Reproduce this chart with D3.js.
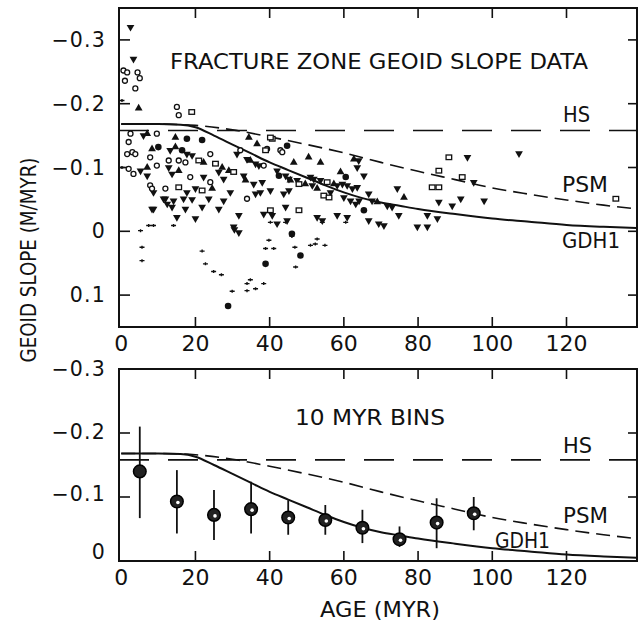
<!DOCTYPE html>
<html><head><meta charset="utf-8">
<script src="https://cdn.jsdelivr.net/npm/d3@7"></script>
<style>body{margin:0;background:#fff}svg text{font-family:"DejaVu Sans",sans-serif;fill:#111}</style>
</head><body>
<svg id="c" width="641" height="624"></svg>
<script>
// ---------- data ----------
const xTicks = [0, 20, 40, 60, 80, 100, 120];
const topYTicks = [-0.3, -0.2, -0.1, 0, 0.1];
const botYTicks = [-0.3, -0.2, -0.1, 0];

const gdhAges = [0, 10, 16, 20, 25, 30, 35, 40, 45, 50, 55, 60, 65, 70, 75, 80, 90, 100, 110, 120, 130, 139];
const gdhVals = [-0.168, -0.168, -0.167, -0.163, -0.150, -0.136, -0.122, -0.108, -0.096, -0.084, -0.072, -0.061, -0.052, -0.045, -0.040, -0.035, -0.027, -0.020, -0.015, -0.010, -0.007, -0.005];
const psmAges = [0, 10, 20, 30, 40, 50, 60, 70, 80, 90, 100, 110, 120, 130, 139];
const psmVals = [-0.168, -0.168, -0.166, -0.159, -0.148, -0.136, -0.123, -0.108, -0.094, -0.081, -0.068, -0.058, -0.049, -0.041, -0.035];
const hsValue = -0.158;

const binAges = [5, 15, 25, 35, 45, 55, 65, 75, 85, 95];
const binMean = [-0.140, -0.093, -0.072, -0.081, -0.068, -0.064, -0.052, -0.034, -0.060, -0.0745];
const binLow  = [-0.210, -0.142, -0.111, -0.124, -0.095, -0.0875, -0.080, -0.054, -0.098, -0.100];
const binHigh = [-0.067, -0.043, -0.033, -0.043, -0.041, -0.041, -0.028, -0.022, -0.020, -0.048];

const downTri = [[2.5,-0.320],[3.3,-0.270],[8.3,-0.035],[40.2,-0.064],[65.4,-0.087],[74.4,-0.067],[74.8,-0.025],[66.7,-0.017],[79.8,-0.007],[82.5,-0.007],[82.5,-0.025],[85.6,-0.046],[89.2,-0.040],[91.5,-0.051],[97.8,-0.048],[93.3,-0.116],[107.2,-0.122],[54.2,-0.017],[36.2,-0.059],[37.5,-0.061],[13.7,-0.090],[21.8,-0.038],[17.3,-0.035],[26.3,-0.035],[15.0,-0.022],[20.0,-0.020],[47.4,-0.080],[12.8,-0.100],[22.2,-0.085],[27.6,-0.082],[63.2,-0.043],[58.2,-0.025],[60.9,-0.022],[44.7,-0.017],[42.0,-0.012],[52.8,-0.022],[11.9,-0.051],[19.1,-0.050],[23.6,-0.051],[27.6,-0.048],[8.7,-0.061],[14.1,-0.048],[16.8,-0.051],[20.0,-0.067],[29.4,-0.061],[33.0,-0.087],[35.7,-0.074],[38.0,-0.077],[45.2,-0.064],[43.8,-0.059],[51.5,-0.072],[62.3,-0.067],[61.8,-0.048],[64.1,-0.048],[69.4,-0.012],[70.8,-0.009],[85.2,-0.020],[95.0,-0.077],[71.7,-0.040],[73.0,-0.038],[31.7,-0.025],[40.7,-0.025],[38.4,-0.027],[7.0,-0.087],[5.2,-0.095],[26.3,-0.093],[17.7,-0.061],[13.7,-0.038],[30.3,-0.007],[6.0,-0.150],[12.4,-0.043],[44.3,-0.038],[56.4,-0.061],[60.0,-0.053],[66.7,-0.059],[67.6,-0.048],[63.6,-0.100],[64.0,-0.111],[51.0,-0.085],[51.9,-0.082],[53.7,-0.080],[58.2,-0.072],[59.6,-0.074],[60.9,-0.072],[63.6,-0.069],[31.2,-0.121],[33.9,-0.113],[36.2,-0.106],[37.1,-0.103],[42.0,-0.095],[44.3,-0.087],[45.2,-0.082],[30.5,-0.003],[31.7,0.002],[11.4,-0.051],[8.7,-0.035],[17.7,-0.121],[19.1,-0.119],[13.2,-0.127]];
const upTri = [[4.7,-0.193],[7.0,-0.153],[34.4,-0.147],[36.6,-0.137],[46.5,-0.108],[50.5,-0.116],[14.6,-0.132],[29.0,-0.095],[53.7,-0.108],[8.3,-0.129],[14.6,-0.147],[24.5,-0.067],[33.5,-0.080],[34.8,-0.111],[45.6,-0.080],[49.6,-0.074],[52.8,-0.067],[57.3,-0.074],[59.1,-0.093],[62.7,-0.113],[69.0,-0.046],[76.2,-0.053],[27.2,-0.100],[22.2,-0.108],[7.0,-0.100],[15.5,-0.095]];
const filledCircle = [[17.7,-0.145],[21.8,-0.143],[44.7,-0.134],[65.4,-0.033],[48.3,0.038],[38.9,0.051],[28.8,0.117],[16.4,-0.127],[42.5,-0.087],[10.0,-0.132],[60.5,-0.085],[46.0,0.004]];
const openCircle = [[0.6,-0.252],[1.6,-0.249],[1.0,-0.236],[4.4,-0.249],[5.0,-0.240],[3.8,-0.224],[15.0,-0.195],[15.5,-0.182],[9.6,-0.153],[2.0,-0.140],[3.0,-0.124],[1.6,-0.121],[3.8,-0.121],[15.5,-0.111],[17.3,-0.108],[24.0,-0.121],[7.8,-0.072],[8.3,-0.067],[39.3,-0.129],[42.9,-0.127],[43.4,-0.124],[33.9,-0.051],[2.5,-0.153],[9.6,-0.103],[18.6,-0.085],[11.9,-0.067],[24.0,-0.077],[32.1,-0.127],[38.4,-0.103],[2.0,-0.098],[3.3,-0.090],[7.8,-0.116],[12.8,-0.111]];
const openSquare = [[19.0,-0.187],[40.7,-0.145],[40.2,-0.147],[38.9,-0.127],[54.6,-0.056],[56.0,-0.053],[47.9,-0.033],[83.8,-0.069],[85.6,-0.069],[85.6,-0.095],[88.3,-0.116],[91.9,-0.085],[133.3,-0.051],[20.9,-0.111],[25.4,-0.106],[30.3,-0.093],[55.5,-0.077],[15.5,-0.069],[21.8,-0.064],[40.2,-0.033],[47.9,-0.074]];
const smallMark = [[0.2,-0.205],[5.2,-0.001],[5.6,0.025],[5.6,0.046],[7.4,-0.009],[8.7,-0.009],[14.1,-0.009],[21.8,0.031],[22.7,0.051],[24.9,0.063],[27.0,0.068],[29.9,0.094],[33.9,0.082],[33.9,0.093],[34.8,0.076],[36.2,0.090],[38.4,0.082],[39.8,0.014],[38.9,0.027],[41.1,0.027],[46.0,0.008],[46.8,0.025],[47.0,0.056],[51.0,0.022],[52.3,0.020],[52.8,0.012],[54.9,0.022],[0.2,-0.100],[44.3,-0.014],[40.2,-0.014],[60.5,-0.014],[54.2,-0.014]];

// ---------- layout ----------
const svg = d3.select("#c");
const X0 = 119, X1 = 637;
const x = d3.scaleLinear().domain([-0.6, 139]).range([X0, X1]);
const yTop = d3.scaleLinear().domain([-0.35, 0.15]).range([8, 327]);
const yBot = d3.scaleLinear().domain([-0.3, 0]).range([369, 561]);

function panel(y, yTicks, labelOffsets) {
  const [t, b] = y.range();
  const g = svg.append("g");
  const xt = xTicks.filter(v => v > 0);
  g.selectAll(null).data(xt).enter().append("line")
    .attr("x1", d => x(d)).attr("x2", d => x(d)).attr("y1", b).attr("y2", b - 10)
    .attr("stroke", "#111").attr("stroke-width", 1.6);
  g.selectAll(null).data(xt).enter().append("line")
    .attr("x1", d => x(d)).attr("x2", d => x(d)).attr("y1", t).attr("y2", t + 10)
    .attr("stroke", "#111").attr("stroke-width", 1.6);
  g.selectAll(null).data(yTicks).enter().append("line")
    .attr("x1", X0).attr("x2", X0 + 11).attr("y1", d => y(d)).attr("y2", d => y(d))
    .attr("stroke", "#111").attr("stroke-width", 1.6);
  g.selectAll(null).data(yTicks).enter().append("line")
    .attr("x1", X1).attr("x2", X1 - 9).attr("y1", d => y(d)).attr("y2", d => y(d))
    .attr("stroke", "#111").attr("stroke-width", 1.6);
  g.append("rect").attr("x", X0).attr("y", t).attr("width", X1 - X0).attr("height", b - t)
    .attr("fill", "none").attr("stroke", "#111").attr("stroke-width", 2);
  g.selectAll(null).data(yTicks).enter().append("text")
    .attr("x", 106).attr("y", (d, i) => y(d) + 7 + (labelOffsets ? labelOffsets[i] : 0))
    .attr("text-anchor", "end").attr("font-size", 20.5).attr("letter-spacing", 1.2)
    .text(d => d === 0 ? "0" : (d < 0 ? "\u2212" : "") + Math.abs(d).toFixed(1));
  g.selectAll(null).data(xTicks).enter().append("text")
    .attr("x", d => x(d)).attr("y", b + 24)
    .attr("text-anchor", "middle").attr("font-size", 22)
    .text(d => d);
}
panel(yTop, topYTicks, null);
panel(yBot, botYTicks, [0, -1, -3, -9]);

// ---------- model curves ----------
function curves(y, clipId) {
  const [t, b] = y.range();
  svg.append("clipPath").attr("id", clipId).append("rect")
    .attr("x", X0).attr("y", t).attr("width", X1 - X0).attr("height", b - t);
  const g = svg.append("g").attr("clip-path", `url(#${clipId})`);
  g.append("line").attr("x1", X0).attr("x2", X1).attr("y1", y(hsValue)).attr("y2", y(hsValue))
    .attr("stroke", "#111").attr("stroke-width", 1.6).attr("stroke-dasharray", "30,19");
  const line = d3.line().x(d => x(d[0])).y(d => y(d[1])).curve(d3.curveMonotoneX);
  g.append("path").attr("d", line(psmAges.map((a, i) => [a, psmVals[i]])))
    .attr("fill", "none").attr("stroke", "#111").attr("stroke-width", 1.6).attr("stroke-dasharray", "14,7");
  g.append("path").attr("d", line(gdhAges.map((a, i) => [a, gdhVals[i]])))
    .attr("fill", "none").attr("stroke", "#111").attr("stroke-width", 2);
}
curves(yTop, "clipTop");
curves(yBot, "clipBot");

// ---------- scatter (top) ----------
const sg = svg.append("g");
sg.selectAll(null).data(downTri).enter().append("path")
  .attr("d", d3.symbol(d3.symbolTriangle, 26)())
  .attr("transform", d => `translate(${x(d[0])},${yTop(d[1])}) rotate(180)`)
  .attr("fill", "#111");
sg.selectAll(null).data(upTri).enter().append("path")
  .attr("d", d3.symbol(d3.symbolTriangle, 26)())
  .attr("transform", d => `translate(${x(d[0])},${yTop(d[1])})`)
  .attr("fill", "#111");
sg.selectAll(null).data(filledCircle).enter().append("circle")
  .attr("cx", d => x(d[0])).attr("cy", d => yTop(d[1])).attr("r", 3.3).attr("fill", "#111");
sg.selectAll(null).data(openCircle).enter().append("circle")
  .attr("cx", d => x(d[0])).attr("cy", d => yTop(d[1])).attr("r", 2.5)
  .attr("fill", "#fff").attr("stroke", "#111").attr("stroke-width", 1.3);
sg.selectAll(null).data(openSquare).enter().append("rect")
  .attr("x", d => x(d[0]) - 2.8).attr("y", d => yTop(d[1]) - 2.3).attr("width", 5.6).attr("height", 4.6)
  .attr("fill", "#fff").attr("stroke", "#111").attr("stroke-width", 1.3);
sg.selectAll(null).data(smallMark).enter().append("path")
  .attr("d", d => `M${x(d[0]) - 2.5},${yTop(d[1])}h5M${x(d[0])},${yTop(d[1]) - 1.5}v3`)
  .attr("stroke", "#111").attr("stroke-width", 1.4).attr("fill", "none");

// ---------- bins (bottom) ----------
const bg = svg.append("g");
bg.selectAll(null).data(binAges).enter().append("line")
  .attr("x1", d => x(d)).attr("x2", d => x(d))
  .attr("y1", (d, i) => yBot(binLow[i])).attr("y2", (d, i) => yBot(binHigh[i]))
  .attr("stroke", "#111").attr("stroke-width", 1.8);
bg.selectAll(null).data(binAges).enter().append("circle")
  .attr("cx", d => x(d)).attr("cy", (d, i) => yBot(binMean[i])).attr("r", 6.3)
  .attr("fill", "#222").attr("stroke", "#000").attr("stroke-width", 1.5);
bg.selectAll(null).data(binAges.slice(1)).enter().append("circle")
  .attr("cx", d => x(d) + 1).attr("cy", (d, i) => yBot(binMean[i + 1]) + 1).attr("r", 1.8)
  .attr("fill", "#fff");

// ---------- text ----------
function label(txt, x0, x1, base, size) {
  svg.append("text").attr("x", x0).attr("y", base).attr("font-size", size)
    .attr("textLength", x1 - x0).attr("lengthAdjust", "spacingAndGlyphs").text(txt);
}
label("FRACTURE ZONE GEOID SLOPE DATA", 170, 588, 69, 21);
label("HS", 563, 590, 122, 22);
label("PSM", 562, 608, 192, 22);
label("GDH1", 562, 620, 248, 22);
label("10 MYR BINS", 295, 445, 425, 22);
label("HS", 563, 592, 453, 22);
label("PSM", 563, 608, 523, 22);
label("GDH1", 495, 550, 548, 22);
label("AGE (MYR)", 320, 440, 617, 22);
svg.append("text").attr("transform", "translate(36,260) rotate(-90)")
  .attr("text-anchor", "middle").attr("font-size", 21)
  .attr("textLength", 205).attr("lengthAdjust", "spacingAndGlyphs")
  .text("GEOID SLOPE (M/MYR)");
</script>
</body></html>
